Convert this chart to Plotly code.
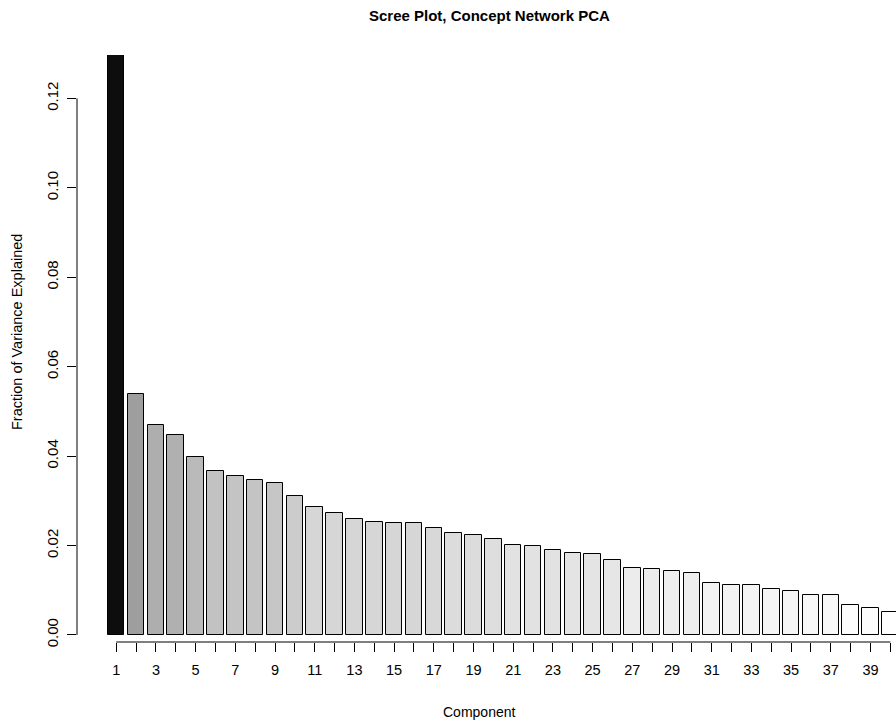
import plotly.graph_objects as go

components = list(range(1, 41))
variance = [0.1300, 0.0539, 0.0470, 0.0447, 0.0397, 0.0367, 0.0356, 0.0347, 0.0339, 0.0310,
            0.0287, 0.0272, 0.0260, 0.0253, 0.0250, 0.0250, 0.0239, 0.0227, 0.0224, 0.0215,
            0.0202, 0.0199, 0.0191, 0.0183, 0.0181, 0.0168, 0.0149, 0.0148, 0.0142, 0.0139,
            0.0117, 0.0112, 0.0112, 0.0103, 0.0098, 0.0090, 0.0090, 0.0066, 0.0061, 0.0052]
gray_levels = [13, 158, 174, 176, 186, 194, 196, 196, 198, 204,
               214, 214, 214, 214, 214, 214, 216, 220, 220, 222,
               226, 226, 226, 228, 228, 230, 236, 236, 238, 238,
               243, 243, 244, 245, 245, 248, 248, 252, 253, 255]
y_ticks = [0.00, 0.02, 0.04, 0.06, 0.08, 0.10, 0.12]
y_ticklabels = ["0.00", "0.02", "0.04", "0.06", "0.08", "0.10", "0.12"]

# R barplot geometry: width 1, space 0.2
xpos = [0.7 + 1.2 * (c - 1) for c in components]
colors = [f"rgb({g},{g},{g})" for g in gray_levels]
xticktext = [str(c) if c % 2 == 1 else "" for c in components]

fig = go.Figure()
fig.add_trace(go.Bar(
    x=xpos, y=variance, width=1.0,
    marker=dict(color=colors, line=dict(color="black", width=1)),
    hoverinfo="skip", showlegend=False,
))

regular = "Liberation Sans, Arial, sans-serif"

fig.update_layout(
    width=896, height=727,
    margin=dict(l=77, r=0, t=55, b=85),
    paper_bgcolor="white", plot_bgcolor="white",
    bargap=0,
    xaxis=dict(
        range=[-1.67, 47.84], showgrid=False, zeroline=False, showline=False,
        tickmode="array", tickvals=xpos, ticktext=xticktext,
        ticks="outside", ticklen=9, tickcolor="black", tickwidth=1,
        ticklabelstandoff=6,
        tickfont=dict(family=regular, size=14.5, color="black"),
        fixedrange=True,
    ),
    yaxis=dict(
        range=[-0.00157, 0.1297], showgrid=False, zeroline=False, showline=False,
        tickmode="array", tickvals=y_ticks, ticktext=y_ticklabels,
        ticks="outside", ticklen=9, tickcolor="black", tickwidth=1,
        tickangle=-90, ticklabelstandoff=3,
        tickfont=dict(family=regular, size=15, color="black"),
        fixedrange=True,
    ),
    shapes=[
        dict(type="line", xref="x", yref="paper", x0=xpos[0], x1=xpos[-1], y0=0, y1=0,
             line=dict(color="black", width=1)),
        dict(type="line", xref="paper", yref="y", x0=0, x1=0, y0=y_ticks[0], y1=y_ticks[-1],
             line=dict(color="black", width=1)),
    ],
    annotations=[
        dict(text="<b>Scree Plot, Concept Network PCA</b>", xref="paper", yref="paper",
             x=0.504, y=1.068, xanchor="center", yanchor="middle", showarrow=False,
             font=dict(family=regular, size=15, color="black")),
        dict(text="Component", xref="paper", yref="paper",
             x=0.4908, y=-0.119, xanchor="center", yanchor="middle", showarrow=False,
             font=dict(family=regular, size=14, color="black")),
        dict(text="Fraction of Variance Explained", xref="paper", yref="paper",
             x=-0.0733, y=0.528, xanchor="center", yanchor="middle", showarrow=False,
             textangle=-90, font=dict(family=regular, size=14.5, color="black")),
    ],
)

fig.write_html("out.html")
